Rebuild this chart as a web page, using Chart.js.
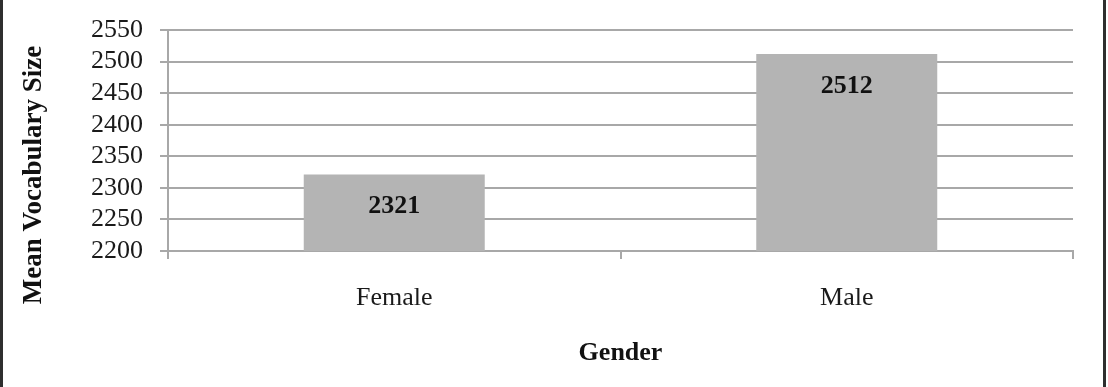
<!DOCTYPE html>
<html>
<head>
<meta charset="utf-8">
<script src="https://cdn.jsdelivr.net/npm/chart.js@4/dist/chart.umd.min.js"></script>
<style>
  html, body { margin: 0; padding: 0; background: #fff; }
  #wrap { width: 1108px; height: 387px; position: relative; }
</style>
</head>
<body>
<div id="wrap"><canvas id="vocabChart" width="1108" height="387"></canvas></div>
<script>
// data
var genders = ["Female", "Male"];
var meanVocab = [2321, 2512];
var yMin = 2200, yMax = 2550, yStep = 50;
var yTitle = "Mean Vocabulary Size";

var serif = "'Liberation Serif', 'Times New Roman', serif";
var gridGray = "#a8a8a8";

// frame lines at left and right edges + y title (sits lower than the axis middle)
var framePlugin = {
  id: 'frame',
  beforeDraw: function (chart) {
    var c = chart.ctx;
    c.save();
    c.fillStyle = "#fff";
    c.fillRect(0, 0, chart.width, chart.height);
    c.fillStyle = "#2e2e2e";
    c.fillRect(0, 0, 3, chart.height);
    c.fillRect(1103, 0, 3, chart.height);
    c.restore();
  },
  afterDraw: function (chart) {
    var c = chart.ctx;
    c.save();
    c.translate(34, 175);
    c.rotate(-Math.PI / 2);
    c.font = "bold 27px " + serif;
    c.fillStyle = "#111";
    c.textAlign = "center";
    c.textBaseline = "middle";
    c.fillText(yTitle, 0, 0);
    c.restore();
  }
};

// value labels inside bars, near the top
var valuePlugin = {
  id: 'values',
  afterDatasetsDraw: function (chart) {
    var c = chart.ctx;
    var meta = chart.getDatasetMeta(0);
    c.save();
    c.font = "bold 26px " + serif;
    c.fillStyle = "#111";
    c.textAlign = "center";
    c.textBaseline = "middle";
    meta.data.forEach(function (bar, i) {
      c.fillText(String(meanVocab[i]), bar.x, bar.y + 32);
    });
    c.restore();
  }
};

var ctx = document.getElementById("vocabChart").getContext('2d');
var vocabChart = new Chart(ctx, {
  type: 'bar',
  data: {
    labels: genders,
    datasets: [{
      label: yTitle,
      data: meanVocab,
      backgroundColor: "#b4b4b4",
      borderWidth: 0,
      categoryPercentage: 1.0,
      barPercentage: 0.4
    }]
  },
  options: {
    responsive: false,
    animation: false,
    devicePixelRatio: 1,
    layout: { padding: { left: 18, right: 35, top: 27, bottom: 0 } },
    plugins: {
      legend: { display: false },
      tooltip: { enabled: false }
    },
    scales: {
      x: {
        grid: {
          drawOnChartArea: false,
          drawTicks: true,
          tickLength: 8,
          offset: true,
          color: gridGray,
          lineWidth: 2
        },
        border: { color: gridGray, width: 2 },
        ticks: {
          color: "#1a1a1a",
          font: { family: serif, size: 26 },
          padding: 24
        },
        title: {
          display: true,
          text: "Gender",
          color: "#111",
          font: { family: serif, size: 26, weight: 'bold' },
          padding: { top: 0, bottom: 18 }
        },
        afterFit: function (s) { s.height = 136; }
      },
      y: {
        min: yMin,
        max: yMax,
        grid: {
          color: gridGray,
          lineWidth: 2,
          tickLength: 8
        },
        border: { color: gridGray, width: 2 },
        ticks: {
          stepSize: yStep,
          autoSkip: false,
          color: "#1a1a1a",
          font: { family: serif, size: 26, lineHeight: 1.0 },
          padding: 17,
          callback: function (v) { return String(v); }
        },
        afterFit: function (s) { s.width = 150; }
      }
    }
  },
  plugins: [framePlugin, valuePlugin]
});
</script>
</body>
</html>
